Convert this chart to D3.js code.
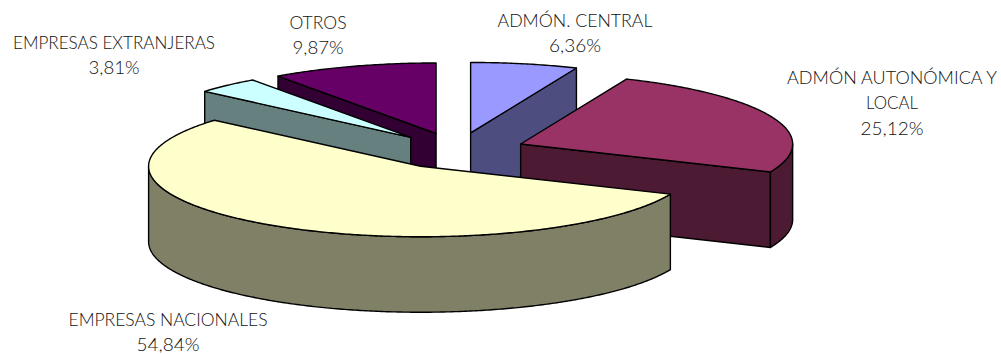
<!DOCTYPE html>
<html><head><meta charset="utf-8"><script src="https://d3js.org/d3.v7.min.js"></script>
<style>html,body{margin:0;background:#fff}svg{display:block}text{font-family:Lato,sans-serif;font-weight:300;font-size:17px;fill:#111}</style>
</head><body><script>
const categories=["ADMÓN. CENTRAL","ADMÓN AUTONÓMICA Y LOCAL","EMPRESAS NACIONALES","EMPRESAS EXTRANJERAS","OTROS"];
const values=[6.36,25.12,54.84,3.81,9.87];
const valueLabels=["6,36%","25,12%","54,84%","3,81%","9,87%"];
const labelLines=[["ADMÓN. CENTRAL"],["ADMÓN AUTONÓMICA Y","LOCAL"],["EMPRESAS NACIONALES"],["EMPRESAS EXTRANJERAS"],["OTROS"]];
const topColors=["#9999FF","#993366","#FFFFCC","#CCFFFF","#660066"];
const sideColors=["#4D4D80","#4D1A33","#808066","#668080","#330033"];
const labelCenters=[[575,21],[892,78],[168,320],[114,43],[318,23]];
const labelWidths=[[155,52],[210,52,63],[199,63],[202,51],[57,51]];
const drawOrder=[0,4,3,1,2];

const W=1001,H=354,cx=457,cy=150.8,rx=272,ry=70.5,explodeX=68.6,explodeY=18.2,sliceDepth=75.5;
const svg=d3.select("body").append("svg").attr("width",W).attr("height",H);
const x=d3.scaleLinear().domain([-1,1]).range([cx-rx,cx+rx]);
const y=d3.scaleLinear().domain([-1,1]).range([cy-ry,cy+ry]);
const pie=d3.pie().sort(null).value(d=>d);
const arcs=pie(values);
const line=d3.line().x(d=>d[0]).y(d=>d[1]);
const down=p=>[p[0],p[1]+sliceDepth];

function slicePts(a){
  const mid=(a.startAngle+a.endAngle)/2;
  const dx=Math.sin(mid)*explodeX/rx, dy=-Math.cos(mid)*explodeY/ry;
  const pt=t=>[x(Math.sin(t)+dx),y(-Math.cos(t)+dy)];
  return {apex:[x(dx),y(dy)],pt};
}
function range(a,b){const n=Math.max(2,Math.ceil((b-a)/0.01));return d3.range(n+1).map(i=>a+(b-a)*i/n);}

drawOrder.forEach(i=>{
  const a=arcs[i],{apex,pt}=slicePts(a),s=a.startAngle,e=a.endAngle;
  const g=svg.append("g");
  const wall=(pts)=>g.append("path").attr("d",line(pts.concat(pts.slice().reverse().map(down)))+"Z")
    .attr("fill",sideColors[i]).attr("stroke","#000").attr("stroke-width",1.4).attr("stroke-linejoin","round");
  if(Math.sin(s)<-1e-6) wall([apex,pt(s)]);
  if(Math.sin(e)>1e-6) wall([apex,pt(e)]);
  const r0=Math.max(s,Math.PI/2),r1=Math.min(e,Math.PI*1.5);
  if(r1>r0) wall(range(r0,r1).map(pt));
  g.append("path").attr("d",line([apex,...range(s,e).map(pt)])+"Z")
    .attr("fill",topColors[i]).attr("stroke","#000").attr("stroke-width",1.4).attr("stroke-linejoin","round");
});

categories.forEach((c,i)=>{
  const t=svg.append("text").attr("text-anchor","middle");
  labelLines[i].concat([valueLabels[i]]).forEach((s,k)=>{
    t.append("tspan").attr("x",labelCenters[i][0]).attr("y",labelCenters[i][1]+6+k*25.3)
      .attr("textLength",labelWidths[i][k]).attr("lengthAdjust","spacingAndGlyphs").text(s);
  });
});
</script></body></html>
